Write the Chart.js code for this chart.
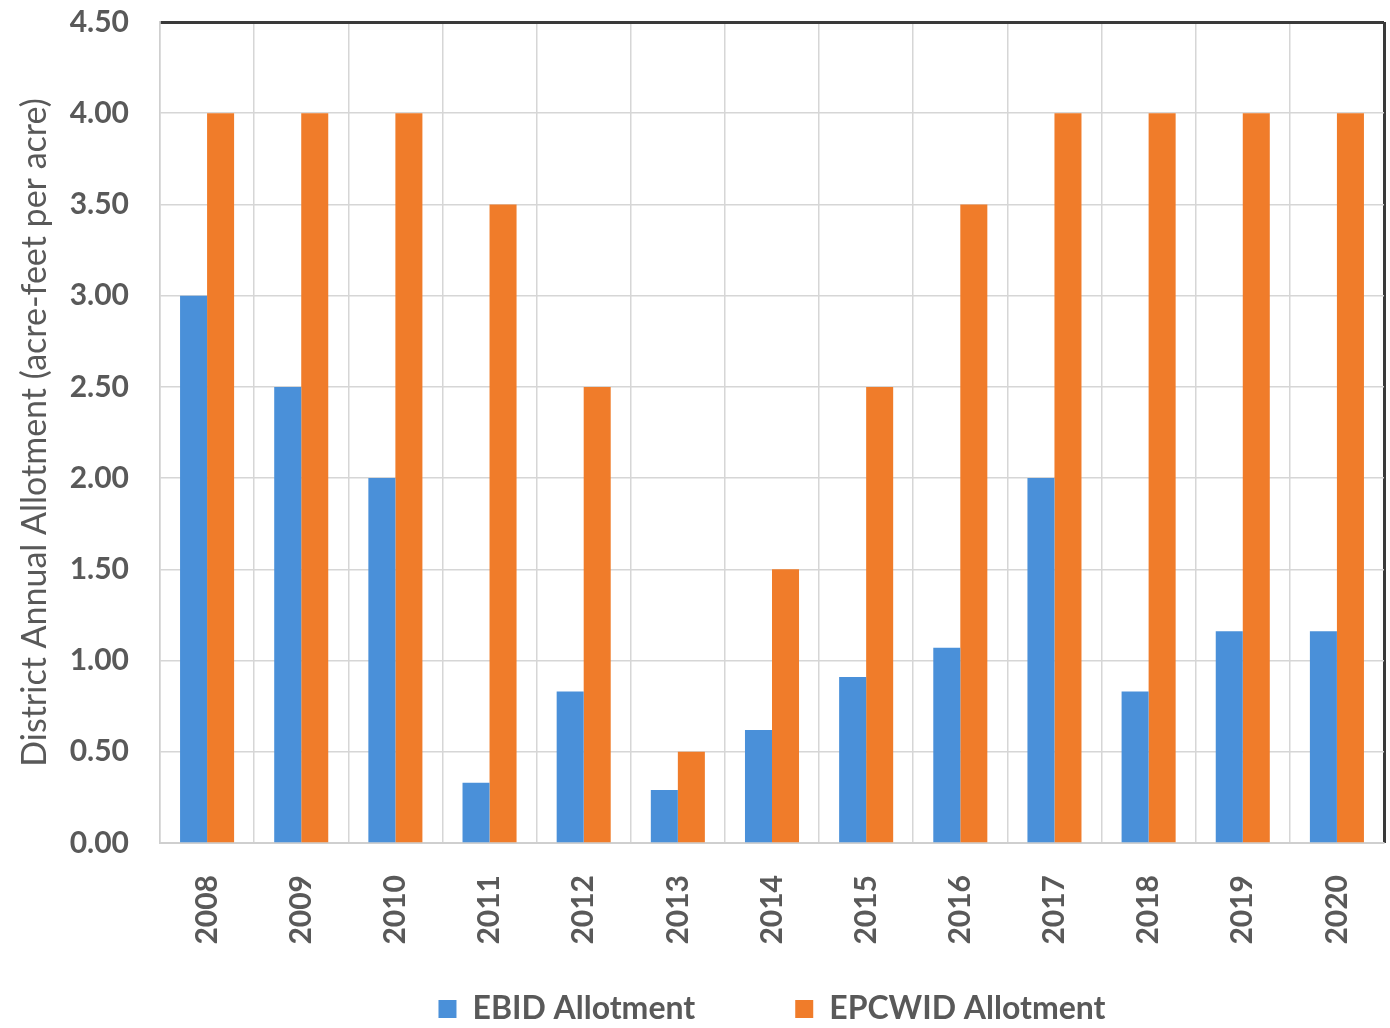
<!DOCTYPE html>
<html>
<head>
<meta charset="utf-8">
<title>District Annual Allotment</title>
<script src="https://cdn.jsdelivr.net/npm/chart.js@4/dist/chart.umd.min.js"></script>
<style>
  html, body { margin: 0; padding: 0; background: #ffffff; }
  #wrap { width: 1390px; height: 1028px; position: relative; }
</style>
</head>
<body>
<div id="wrap"><canvas id="chart"></canvas></div>
<script>
// Annual allotments, acre-feet per acre
const years = ['2008', '2009', '2010', '2011', '2012', '2013', '2014',
               '2015', '2016', '2017', '2018', '2019', '2020'];
const ebidAllotment    = [3.00, 2.50, 2.00, 0.33, 0.83, 0.29, 0.62, 0.91, 1.07, 2.00, 0.83, 1.16, 1.16];
const epcwidAllotment  = [4.00, 4.00, 4.00, 3.50, 2.50, 0.50, 1.50, 2.50, 3.50, 4.00, 4.00, 4.00, 4.00];
const seriesNames = ['EBID Allotment', 'EPCWID Allotment'];
const yAxisTitle = 'District Annual Allotment (acre-feet per acre)';
const yMin = 0, yMax = 4.5, yStep = 0.5;

const FONT = 'Lato, "Open Sans", "DejaVu Sans", sans-serif';
const TEXT = '#595959';
const GRID = '#d6d6d6';
const FRAME = '#3a3a3a';

new Chart(document.getElementById('chart'), {
  type: 'bar',
  data: {
    labels: years,
    datasets: [
      { label: seriesNames[0], data: ebidAllotment, backgroundColor: '#4a90d9',
        categoryPercentage: 0.574, barPercentage: 1.0 },
      { label: seriesNames[1], data: epcwidAllotment, backgroundColor: '#f07c2a',
        categoryPercentage: 0.574, barPercentage: 1.0 }
    ]
  },
  options: {
    responsive: true,
    maintainAspectRatio: false,
    animation: false,
    layout: { padding: { top: 22, right: 6, bottom: 0, left: 0 } },
    plugins: {
      tooltip: { enabled: false },
      legend: {
        position: 'bottom',
        fullSize: false,
        maxHeight: 135,
        labels: {
          color: TEXT,
          font: { family: FONT, size: 32, weight: 'bold' },
          boxWidth: 18,
          boxHeight: 18,
          padding: 100
        }
      }
    },
    scales: {
      // year axis pinned to the zero line so its rotated labels hang below the plot
      x: {
        position: { y: 0 },
        afterFit: (s) => { s.height = 0; },
        border: { display: true, color: '#cfcfcf', width: 2 },
        grid: {
          offset: true,
          drawTicks: true,
          tickLength: 32,
          tickColor: 'rgba(0,0,0,0)',
          color: (c) => c.type === 'scale' ? FRAME : GRID,
          lineWidth: (c) => c.type === 'scale' ? 3 : 1.5
        },
        ticks: {
          color: TEXT,
          font: { family: FONT, size: 30, weight: 'bold' },
          minRotation: 90,
          maxRotation: 90,
          autoSkip: false,
          padding: 0
        }
      },
      // empty band that keeps the legend clear of the year labels
      band: {
        type: 'category',
        axis: 'x',
        position: 'bottom',
        afterFit: (s) => { s.height = 50; },
        border: { display: false },
        grid: { display: false, drawTicks: false },
        ticks: { display: false }
      },
      y: {
        min: yMin,
        max: yMax,
        afterFit: (s) => { s.width = 160; },
        border: { display: true, color: '#cfcfcf', width: 1.5 },
        grid: {
          drawTicks: true,
          tickLength: 31,
          tickColor: 'rgba(0,0,0,0)',
          color: (c) => (c.tick && c.tick.value === yMax) ? FRAME : GRID,
          lineWidth: (c) => (c.tick && c.tick.value === yMax) ? 3 : 1.5
        },
        ticks: {
          stepSize: yStep,
          color: TEXT,
          font: { family: FONT, size: 30, weight: 'bold' },
          padding: 0,
          callback: (v) => Number(v).toFixed(2)
        },
        title: {
          display: true,
          text: yAxisTitle,
          color: TEXT,
          font: { family: FONT, size: 34, weight: 'normal' },
          padding: { top: 15, bottom: 0 }
        }
      }
    }
  }
});
</script>
</body>
</html>
